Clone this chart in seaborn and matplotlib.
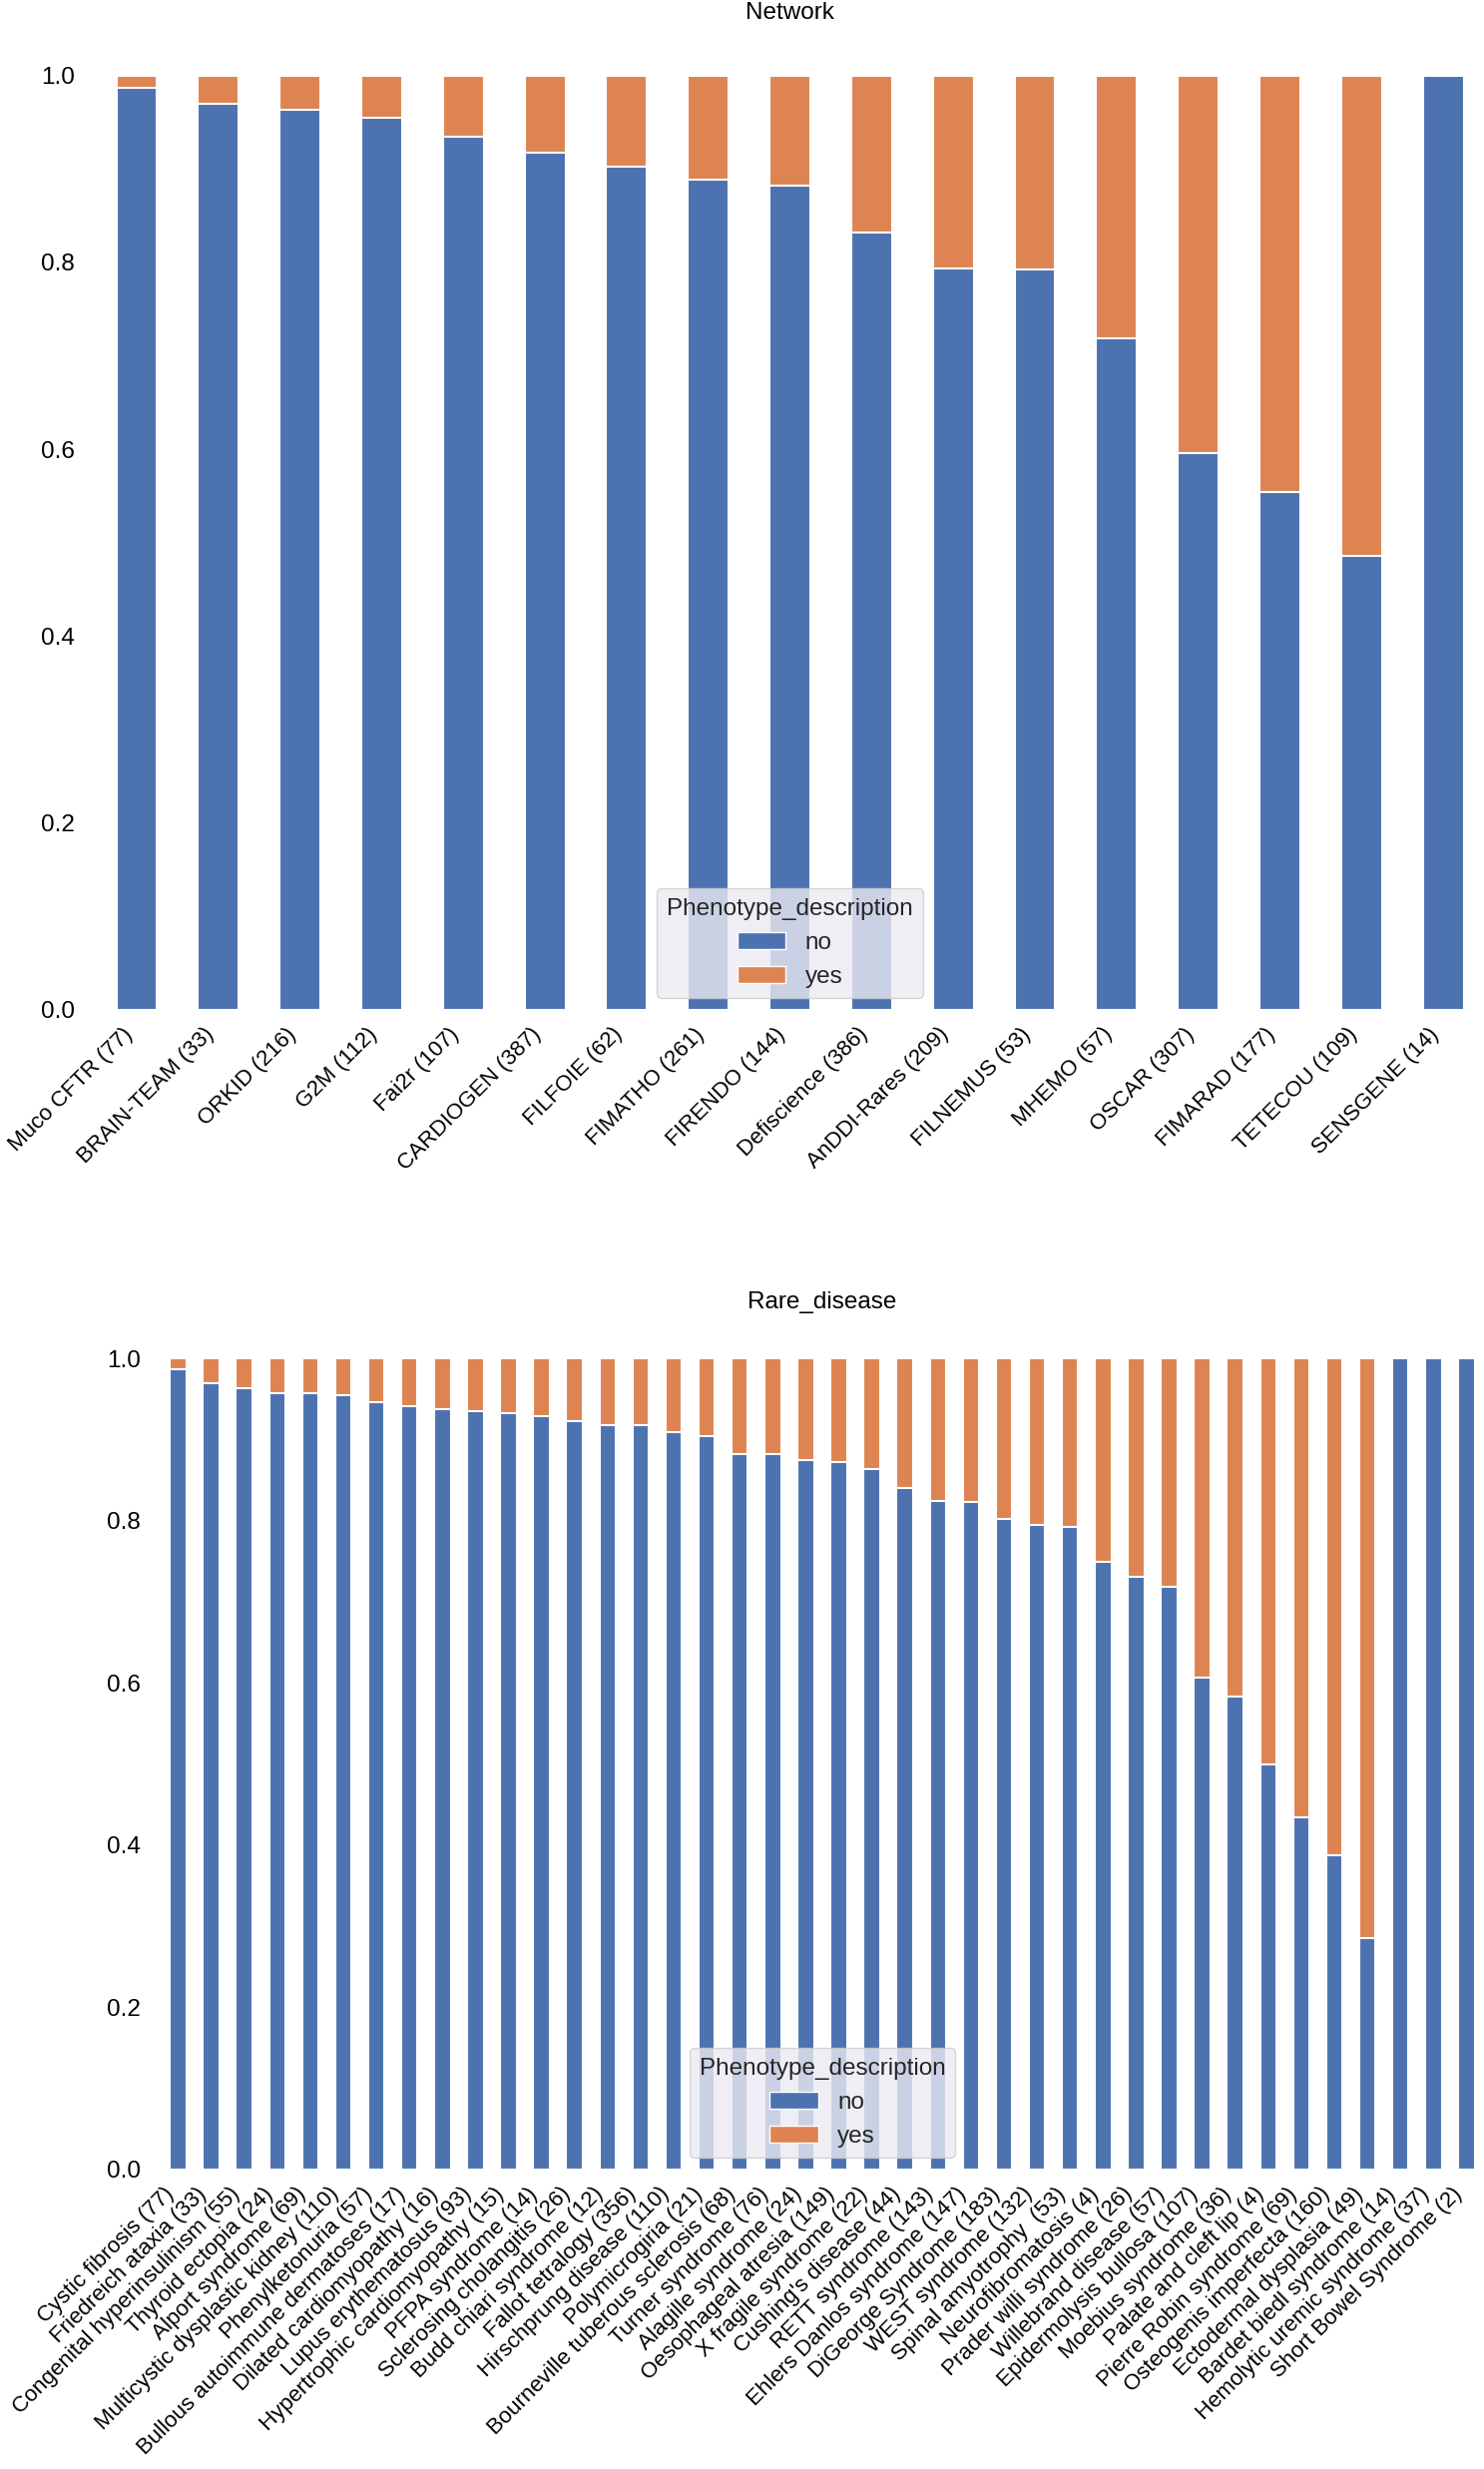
import numpy as np
import pandas as pd
import matplotlib.pyplot as plt
import seaborn as sns
from matplotlib.patches import Patch

# ──────────────────────────────────────────────
# Data: share of "no" per group
# ──────────────────────────────────────────────
network_labels = [
    "Muco CFTR (77)", "BRAIN-TEAM (33)", "ORKID (216)", "G2M (112)",
    "Fai2r (107)", "CARDIOGEN (387)", "FILFOIE (62)", "FIMATHO (261)",
    "FIRENDO (144)", "Defiscience (386)", "AnDDI-Rares (209)",
    "FILNEMUS (53)", "MHEMO (57)", "OSCAR (307)", "FIMARAD (177)",
    "TETECOU (109)", "SENSGENE (14)",
]
network_no = [0.987, 0.970, 0.963, 0.955, 0.935, 0.917, 0.903, 0.889,
              0.882, 0.832, 0.794, 0.792, 0.719, 0.596, 0.554, 0.486, 1.0]

disease_labels = [
    "Cystic fibrosis (77)", "Friedreich ataxia (33)",
    "Congenital hyperinsulinism (55)", "Thyroid ectopia (24)",
    "Alport syndrome (69)", "Multicystic dysplastic kidney (110)",
    "Phenylketonuria (57)", "Bullous autoimmune dermatoses (17)",
    "Dilated cardiomyopathy (16)", "Lupus erythematosus (93)",
    "Hypertrophic cardiomyopathy (15)", "PFPA syndrome (14)",
    "Sclerosing cholangitis (26)", "Budd chiari syndrome (12)",
    "Fallot tetralogy (356)", "Hirschprung disease (110)",
    "Polymicrogiria (21)", "Bourneville tuberous sclerosis (68)",
    "Turner syndrome (76)", "Alagille syndrome (24)",
    "Oesophageal atresia (149)", "X fragile syndrome (22)",
    "Cushing's disease (44)", "RETT syndrome (143)",
    "Ehlers Danlos syndrome (147)", "DiGeorge Syndrome (183)",
    "WEST syndrome (132)", "Spinal amyotrophy  (53)",
    "Neurofibromatosis (4)", "Prader willi syndrome (26)",
    "Willebrand disease (57)", "Epidermolysis bullosa (107)",
    "Moebius syndrome (36)", "Palate and cleft lip (4)",
    "Pierre Robin syndrome (69)", "Osteogenis imperfecta (160)",
    "Ectodermal dysplasia (49)", "Bardet biedl syndrome (14)",
    "Hemolytic uremic syndrome (37)", "Short Bowel Syndrome (2)",
]
disease_no = [0.987, 0.970, 0.964, 0.958, 0.957, 0.955, 0.947, 0.941,
              0.938, 0.935, 0.933, 0.929, 0.923, 0.918, 0.918, 0.909,
              0.905, 0.882, 0.882, 0.875, 0.872, 0.864, 0.841, 0.825,
              0.823, 0.803, 0.795, 0.792, 0.750, 0.731, 0.719, 0.607,
              0.583, 0.500, 0.435, 0.388, 0.286, 1.0, 1.0, 1.0]

legend_labels = ["no", "yes"]

BLUE = "#4C72B0"
ORANGE = "#DD8452"
FS = 17.5
XFS = 16

sns.set_theme(style="darkgrid")
plt.rcParams["font.family"] = ["Liberation Sans", "DejaVu Sans"]


def draw_panel(ax, labels, no_frac, title):
    df = pd.DataFrame({"label": labels, "no": no_frac})
    df["yes"] = 1 - df["no"]
    df["total"] = df["no"] + df["yes"]

    # stacked bars: full (no + yes) in orange, then "no" over it in blue
    sns.barplot(data=df, x="label", y="total", color=ORANGE, saturation=1,
                width=0.5, errorbar=None, edgecolor="white", linewidth=1.5, ax=ax)
    sns.barplot(data=df, x="label", y="no", color=BLUE, saturation=1,
                width=0.5, errorbar=None, edgecolor="white", linewidth=1.5, ax=ax)

    ax.set_facecolor("white")
    ax.grid(False)
    for s in ax.spines.values():
        s.set_visible(False)
    ax.set_xlim(-0.5, len(labels) - 0.5)
    ax.set_ylim(0, 1.05)
    ax.set_yticks([0.0, 0.2, 0.4, 0.6, 0.8, 1.0])
    ax.set_xlabel("")
    ax.set_ylabel("")
    ax.set_title(title, fontsize=FS, color="black", pad=7)
    ax.tick_params(axis="y", labelsize=FS, labelcolor="black", pad=15, length=0)
    ax.tick_params(axis="x", labelsize=XFS, labelcolor="black", pad=10, length=0)
    plt.setp(ax.get_xticklabels(), rotation=45, ha="right")

    handles = [Patch(facecolor=c, edgecolor="white", label=l)
               for c, l in zip([BLUE, ORANGE], legend_labels)]
    ax.legend(handles=handles, title="Phenotype_description", loc="lower center",
              facecolor="#EAEAF2", edgecolor="0.8", framealpha=0.8,
              fontsize=FS, title_fontsize=FS)


fig = plt.figure(figsize=(14.87, 24.74), dpi=100)
fig.patch.set_facecolor("white")

ax_top = fig.add_axes([0.0646, 0.5910, 0.9354, 0.3973])
draw_panel(ax_top, network_labels, network_no, "Network")

ax_bot = fig.add_axes([0.1089, 0.1213, 0.8904, 0.3448])
draw_panel(ax_bot, disease_labels, disease_no, "Rare_disease")

fig.savefig("out.png", dpi=100, facecolor="white")
